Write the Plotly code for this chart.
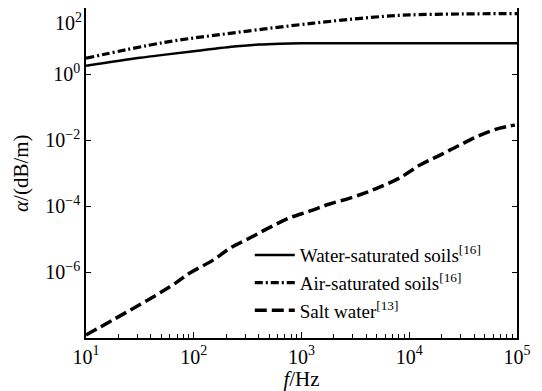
import plotly.graph_objects as go

# Values
f_water = [10, 31.6, 52, 100, 251, 398, 631, 1000, 10000, 100000]
a_water = [1.78, 3.09, 3.8, 4.9, 6.9, 7.8, 8.3, 8.5, 8.5, 8.5]

f_air = [10, 52, 251, 1290, 3162, 5957, 10000, 31623, 100000]
a_air = [3.0, 8.9, 18.2, 34.7, 46.8, 56.2, 61.7, 66.1, 67.6]

f_salt = [10, 60, 92, 151, 219, 331, 513, 776, 1202, 1820, 2818, 4074, 5370,
          8128, 12590, 19500, 29510, 45710, 69180, 95500]
a_salt = [1.23e-8, 3.55e-7, 9.3e-7, 2.29e-6, 5.37e-6, 1.07e-5, 2.29e-5, 4.37e-5,
          7.08e-5, 1.15e-4, 1.74e-4, 2.63e-4, 3.80e-4, 7.08e-4, 1.74e-3, 3.55e-3,
          7.08e-3, 1.41e-2, 2.29e-2, 2.82e-2]

x_tickvals = [10, 100, 1000, 10000, 100000]
x_ticktext = ["10<sup>1</sup>", "10<sup>2</sup>", "10<sup>3</sup>", "10<sup>4</sup>", "10<sup>5</sup>"]
y_tickvals = [1e-6, 1e-4, 1e-2, 1, 100]
y_ticktext = ["10<sup>−6</sup>", "10<sup>−4</sup>", "10<sup>−2</sup>", "10<sup>0</sup>", "10<sup>2</sup>"]

legend_names = ["Water-saturated soils<sup>[16]</sup>",
                "Air-saturated soils<sup>[16]</sup>",
                "Salt water<sup>[13]</sup>"]

minor_x = [m * 10 ** k for k in range(1, 5) for m in range(2, 10)]

font_family = "Liberation Serif"

fig = go.Figure()
fig.add_trace(go.Scatter(x=f_water, y=a_water, mode="lines", name=legend_names[0],
                         line=dict(color="black", width=2.5, shape="spline", smoothing=1.0)))
fig.add_trace(go.Scatter(x=f_air, y=a_air, mode="lines", name=legend_names[1],
                         line=dict(color="black", width=3.2, dash="8px,3px,2px,3px",
                                   shape="spline", smoothing=1.0)))
fig.add_trace(go.Scatter(x=f_salt, y=a_salt, mode="lines", name=legend_names[2],
                         line=dict(color="black", width=3.5, dash="12px,5px",
                                   shape="spline", smoothing=1.0)))

# The top y tick label sits at the very top edge of the figure; draw it just
# below the edge (as in the reference) so it is not clipped.
y_ticktext_axis = y_ticktext[:-1] + [""]

# page body has an 8px margin, so the figure is offset by 8px right and down
fig.update_layout(
    width=534, height=383,
    margin=dict(l=78, r=25, t=0, b=53, autoexpand=False),
    paper_bgcolor="white", plot_bgcolor="white",
    font=dict(family=font_family, size=20, color="black"),
    showlegend=True,
    legend=dict(x=0.38, y=0.309, xanchor="left", yanchor="top",
                bgcolor="rgba(0,0,0,0)", font=dict(size=19, family=font_family),
                tracegroupgap=0, itemwidth=40),
    annotations=[
        dict(text="<i>α</i>/(dB/m)", xref="paper", yref="paper",
             x=-0.151, y=0.5, xanchor="center", yanchor="middle",
             textangle=-90, showarrow=False, font=dict(size=21)),
        dict(text=y_ticktext[-1], xref="paper", yref="y",
             x=0, y=2, xanchor="right", yanchor="top", xshift=-2,
             showarrow=False, font=dict(size=20)),
    ],
)
fig.update_xaxes(
    type="log", range=[1, 5], automargin=False,
    tickvals=x_tickvals, ticktext=x_ticktext,
    tickfont=dict(size=20), ticklabeloverflow="allow",
    ticks="inside", ticklen=6, tickwidth=1.2, tickcolor="black",
    minor=dict(tickvals=minor_x, ticks="inside", ticklen=4, tickcolor="black", showgrid=False),
    showline=True, linecolor="black", linewidth=1.5, mirror=True,
    showgrid=False, zeroline=False,
    title=dict(text="<i>f</i>/Hz", standoff=4, font=dict(size=21)),
)
fig.update_yaxes(
    type="log", range=[-8, 2], automargin=False,
    tickvals=y_tickvals, ticktext=y_ticktext_axis,
    tickfont=dict(size=20), ticklabeloverflow="allow",
    ticks="inside", ticklen=5, tickwidth=1.2, tickcolor="black",
    showline=True, linecolor="black", linewidth=1.5, mirror="ticks",
    showgrid=False, zeroline=False,
)

fig.write_html("out.html")
